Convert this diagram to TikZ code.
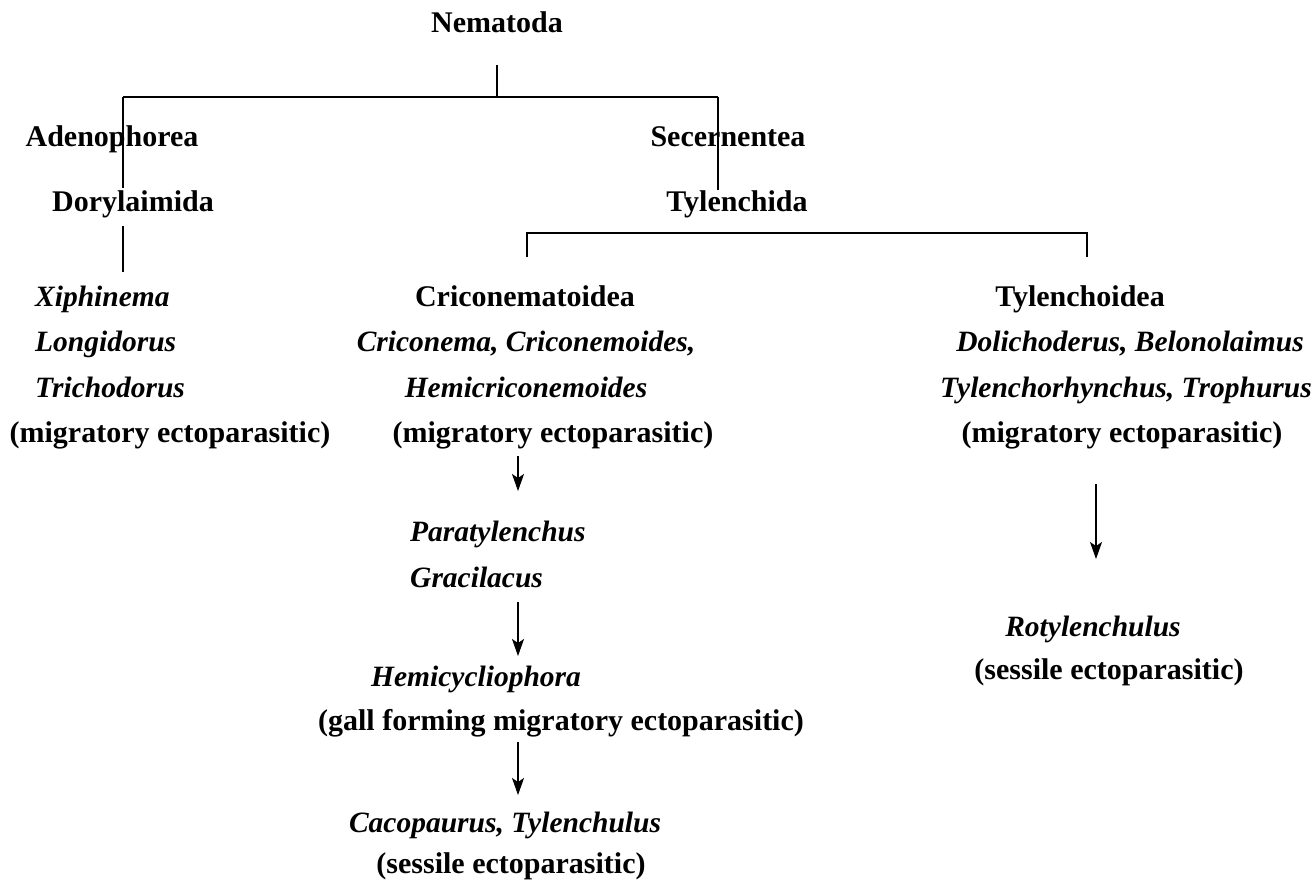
\documentclass[tikz,border=0pt]{standalone}
\usepackage{fontspec}
\setmainfont{Liberation Serif}
\usetikzlibrary{arrows.meta}
\begin{document}
\begin{tikzpicture}[x=1pt,y=-1pt,
  lbl/.style={inner sep=0pt,anchor=base,font=\fontsize{30}{36}\selectfont\bfseries},
  lblw/.style={lbl,anchor=base west},
  gen/.style={lbl,font=\fontsize{29.5}{35}\selectfont\bfseries\itshape},
  genw/.style={gen,anchor=base west},
  tree/.style={line width=1.2pt},
  arr/.style={line width=1.2pt,-{Stealth[length=17pt,width=12pt,inset=4pt]}}]
\useasboundingbox (0,0) rectangle (1314,879);
% tree lines (drawn first, text on top)
\coordinate (top) at (497,65);
\coordinate (j0) at (497,97);
\coordinate (jl) at (123,97);
\coordinate (jr) at (718,97);
\coordinate (adb) at (123,188);
\coordinate (seb) at (718,190);
\coordinate (dt) at (123,226);
\coordinate (db) at (123,272);
\coordinate (tl0) at (527,233);
\coordinate (tr0) at (1087,233);
\coordinate (tl) at (527,257);
\coordinate (tr) at (1087,257);
\draw[tree] (top) -- (j0);
\draw[tree] (jl) -- (jr);
\draw[tree] (jl) -- (adb);
\draw[tree] (jr) -- (seb);
\draw[tree] (dt) -- (db);
\draw[tree] (tl) -- (tl0) -- (tr0) -- (tr);
% nodes
\node[lbl] (nem) at (497,32) {Nematoda};
\node[lbl] (ade) at (112,146) {Adenophorea};
\node[lbl] (sec) at (728,146) {Secernentea};
\node[lbl] (dor) at (133,211) {Dorylaimida};
\node[lbl] (tyl) at (737,211) {Tylenchida};
% left column
\node[genw] (xip) at (35,306) {Xiphinema};
\node[genw] (lon) at (35,351) {Longidorus};
\node[genw] (tri) at (35,397) {Trichodorus};
\node[lbl] (mig1) at (170,442) {(migratory ectoparasitic)};
% middle column
\node[lbl] (cri) at (525,306) {Criconematoidea};
\node[gen] (cri2) at (526,351) {Criconema, Criconemoides,};
\node[gen] (hem) at (526,397) {Hemicriconemoides};
\node[lbl] (mig2) at (553,442) {(migratory ectoparasitic)};
\node[genw] (par) at (410,541) {Paratylenchus};
\node[genw] (gra) at (410,587) {Gracilacus};
\node[gen] (hcy) at (476,686) {Hemicycliophora};
\node[lbl] (gall) at (561,730) {(gall forming migratory ectoparasitic)};
\node[gen] (cac) at (505,832) {Cacopaurus, Tylenchulus};
\node[lbl] (ses1) at (511,873) {(sessile ectoparasitic)};
% right column
\node[lbl] (tyd) at (1080,306) {Tylenchoidea};
\node[gen] (dol) at (1130,351) {Dolichoderus, Belonolaimus};
\node[gen] (tyr) at (1126,397) {Tylenchorhynchus, Trophurus};
\node[lbl] (mig3) at (1122,442) {(migratory ectoparasitic)};
\node[gen] (rot) at (1093,636) {Rotylenchulus};
\node[lbl] (ses2) at (1109,679) {(sessile ectoparasitic)};
% arrows
\coordinate (a1s) at (518,456);
\coordinate (a1e) at (518,491);
\coordinate (a2s) at (518,602);
\coordinate (a2e) at (518,656);
\coordinate (a3s) at (518,742);
\coordinate (a3e) at (518,795);
\coordinate (a4s) at (1096,484);
\coordinate (a4e) at (1096,559);
\draw[arr] (a1s) -- (a1e);
\draw[arr] (a2s) -- (a2e);
\draw[arr] (a3s) -- (a3e);
\draw[arr] (a4s) -- (a4e);
\end{tikzpicture}
\end{document}
